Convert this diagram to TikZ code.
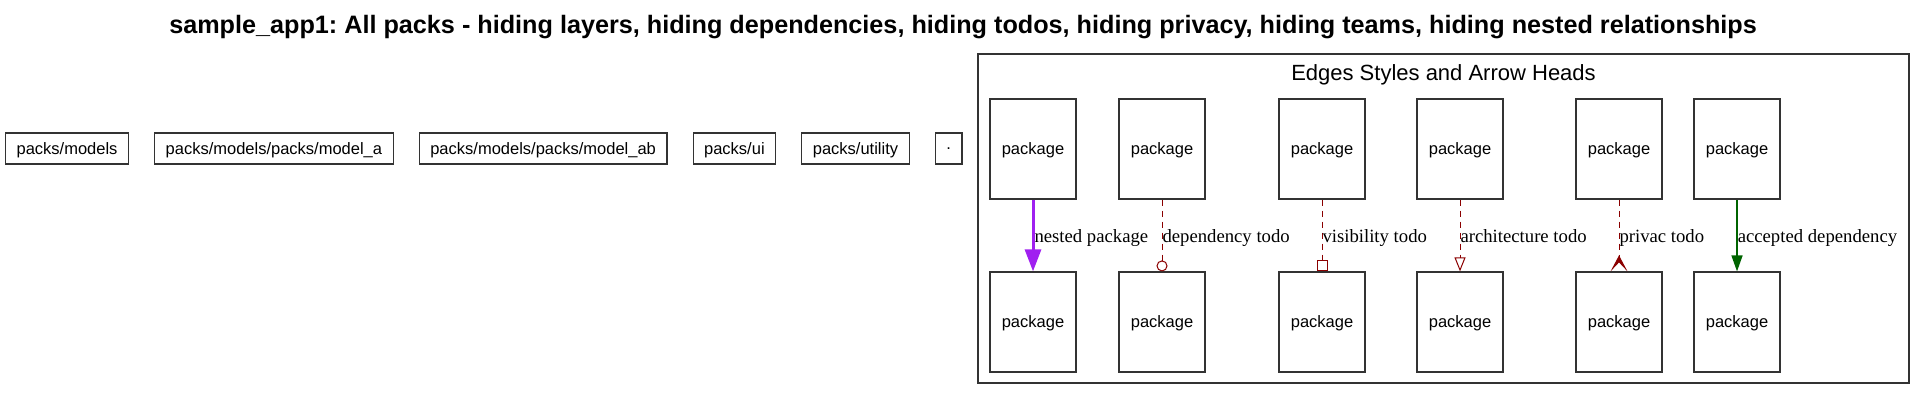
\documentclass[tikz,border=0pt]{standalone}
\usepackage{fontspec}
\setmainfont{Liberation Serif}
\setsansfont{Liberation Sans}
\usetikzlibrary{positioning,arrows.meta}
\definecolor{nestpurple}{RGB}{160,32,240}
\definecolor{tododark}{RGB}{139,0,0}
\definecolor{okgreen}{RGB}{0,100,0}
\tikzset{
  pack/.style={draw=black!80, line width=1.2pt, font=\sffamily\fontsize{16.5}{18}\selectfont, inner xsep=11pt, inner ysep=0pt, text depth=0pt, minimum height=31pt},
  pkg/.style={pack, inner xsep=0pt, minimum width=86pt, minimum height=100pt},
  lbl/.style={font=\fontsize{18.7}{20}\selectfont, text=black, anchor=base west, inner sep=0pt, yshift=-7pt},
  todo/.style={draw=tododark, line width=1pt, dash pattern=on 6pt off 5pt},
}
\begin{document}
\begin{tikzpicture}[x=1pt,y=-1pt,>=Triangle]
\useasboundingbox (0,0) rectangle (1926,400);
\node[font=\sffamily\bfseries\fontsize{25.2}{27}\selectfont\frenchspacing, anchor=base] (title) at (963,33)
  {sample\_app1: All packs - hiding layers, hiding dependencies, hiding todos, hiding privacy, hiding teams, hiding nested relationships};

% packs
\node[pack, anchor=west] (models) at (5,148.5) {packs/models};
\node[pack, right=25pt of models] (modela) {packs/models/packs/model\_a};
\node[pack, right=25pt of modela] (modelab) {packs/models/packs/model\_ab};
\node[pack, right=25pt of modelab] (ui) {packs/ui};
\node[pack, right=25pt of ui] (utility) {packs/utility};
\node[pack, right=25pt of utility] (root) {.};

% legend
\node[draw=black!80, line width=1.2pt, minimum width=931pt, minimum height=329pt, inner sep=0pt] (legend) at (1443.5,218.5) {};
\node[font=\sffamily\fontsize{22}{24}\selectfont, anchor=base] (legendtitle) at (1443.5,80.5) {Edges Styles and Arrow Heads};

\path
(1033,149) node[pkg] (nest) {package}
+(0,173)   node[pkg] (nestb) {package}
+(129,0)   node[pkg] (dep) {package}
+(129,173) node[pkg] (depb) {package}
+(289,0)   node[pkg] (vis) {package}
+(289,173) node[pkg] (visb) {package}
+(427,0)   node[pkg] (arch) {package}
+(427,173) node[pkg] (archb) {package}
+(586,0)   node[pkg] (priv) {package}
+(586,173) node[pkg] (privb) {package}
+(704,0)   node[pkg] (acc) {package}
+(704,173) node[pkg] (accb) {package};

\draw[nestpurple, line width=3pt, -{Triangle[length=22pt,width=16pt]}] (nest)--(nestb) node[lbl, pos=.5]{nested package};
\draw[todo, -{Circle[open,length=11pt,width=11pt]}] (dep)--(depb) node[lbl, pos=.5]{dependency todo};
\draw[todo, -{Square[open,length=11pt,width=11pt]}] (vis)--(visb) node[lbl, pos=.5]{visibility todo};
\draw[todo, -{Triangle[open,length=14pt,width=11pt]}] (arch)--(archb) node[lbl, pos=.5]{architecture todo};
\draw[todo, -{Stealth[reversed,length=16pt,width=17pt,inset=9pt]}] (priv)--(privb) node[lbl, pos=.5]{privac todo};
\draw[okgreen, line width=1.5pt, -{Triangle[length=16pt,width=11pt]}] (acc)--(accb) node[lbl, pos=.5]{accepted dependency};
\end{tikzpicture}
\end{document}
